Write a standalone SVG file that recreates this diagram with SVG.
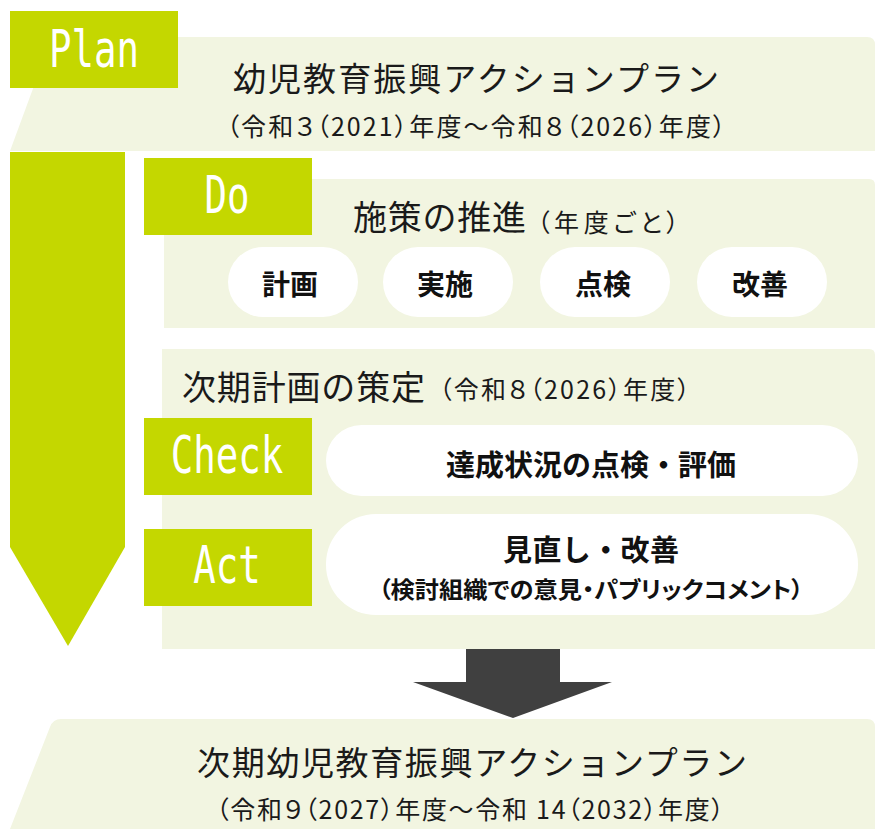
<svg xmlns="http://www.w3.org/2000/svg" width="875" height="829" viewBox="0 0 875 829">
<style>
.panel{fill:#f2f5e1}
.label{fill:#c4d700}
.pill{fill:#ffffff}
.lbl{font-family:"DejaVu Sans Mono","Liberation Mono",monospace;font-size:52px;fill:#ffffff;text-anchor:middle}
.jp{font-family:"Noto Sans CJK JP","Noto Sans",sans-serif;fill:#1a1a1a;text-anchor:middle;dominant-baseline:central}
.t32{font-size:33px}
.t24{font-size:25px}
.p{font-feature-settings:"palt"}
.b{font-weight:bold;fill:#111}
</style>
<rect width="875" height="829" fill="#ffffff"/>
<g id="connectors">
  <polygon id="pdca-arrow" class="label" points="10,152 125,152 125,547 68,646 10,547"/>
  <polygon id="next-arrow" fill="#404040" points="466,649 560,649 560,682 612,682 513,718 413,682 466,682"/>
</g>
<g id="plan">
  <path class="panel" d="M52,37 H867 Q875,37 875,45 V151 H10 Z"/>
  <rect class="label" x="10" y="11" width="168" height="77"/>
  <text class="lbl" transform="translate(94,67) scale(0.72,1)">Plan</text>
  <text class="jp t32" x="476" y="77" textLength="486" lengthAdjust="spacing">幼児教育振興アクションプラン</text>
  <text class="jp t24 p" x="476" y="125" textLength="499" lengthAdjust="spacing">（令和３（2021）年度～令和８（2026）年度）</text>
</g>
<g id="do">
  <path class="panel" d="M164,179 H869 Q875,179 875,185 V328 H164 Z"/>
  <rect class="label" x="144" y="158" width="168" height="77"/>
  <text class="lbl" transform="translate(227,213) scale(0.72,1)">Do</text>
  <text class="jp" x="353" y="215" font-size="34" style="text-anchor:start" textLength="173" lengthAdjust="spacing">施策の推進</text>
  <text class="jp t24 p" x="537" y="221" style="text-anchor:start" textLength="142" lengthAdjust="spacing">（年度ごと）</text>
</g>
<g id="do-items">
  <g id="item-plan"><rect class="pill" x="228" y="247" width="130" height="70" rx="35"/><text class="jp b" x="290" y="283" font-size="28">計画</text></g>
  <g id="item-do"><rect class="pill" x="383" y="247" width="130" height="70" rx="35"/><text class="jp b" x="445" y="283" font-size="28">実施</text></g>
  <g id="item-check"><rect class="pill" x="540" y="247" width="130" height="70" rx="35"/><text class="jp b" x="603" y="283" font-size="28">点検</text></g>
  <g id="item-act"><rect class="pill" x="697" y="247" width="130" height="70" rx="35"/><text class="jp b" x="760" y="283" font-size="28">改善</text></g>
</g>
<g id="next-plan-formulation">
  <path class="panel" d="M162,349 H869 Q875,349 875,355 V649 H162 Z"/>
  <text class="jp" x="182" y="385" font-size="34" style="text-anchor:start" textLength="243" lengthAdjust="spacing">次期計画の策定</text>
  <text class="jp t24 p" x="439" y="388" style="text-anchor:start" textLength="251" lengthAdjust="spacing">（令和８（2026）年度）</text>
</g>
<g id="check">
  <rect class="label" x="144" y="418" width="168" height="77"/>
  <text class="lbl" transform="translate(227,473) scale(0.72,1)">Check</text>
  <rect class="pill" x="326" y="425" width="532" height="71" rx="35.5"/>
  <text class="jp b" x="591" y="463" font-size="29" textLength="290" lengthAdjust="spacing">達成状況の点検・評価</text>
</g>
<g id="act">
  <rect class="label" x="144" y="529" width="168" height="77"/>
  <text class="lbl" transform="translate(227,583) scale(0.72,1)">Act</text>
  <rect class="pill" x="326" y="514" width="532" height="101" rx="50"/>
  <text class="jp b" x="591" y="548" font-size="29" textLength="176" lengthAdjust="spacing">見直し・改善</text>
  <text class="jp b p" x="591" y="588" font-size="23" textLength="425" lengthAdjust="spacingAndGlyphs">（検討組織での意見・パブリックコメント）</text>
</g>
<g id="next-plan">
  <path class="panel" d="M61,719 H867 Q875,719 875,727 V829 H10 L50,727 Q53,719 61,719 Z"/>
  <text class="jp t32" x="472" y="761" textLength="550" lengthAdjust="spacing">次期幼児教育振興アクションプラン</text>
  <text class="jp t24 p" x="470" y="808" textLength="508" lengthAdjust="spacing">（令和９（2027）年度～令和 14（2032）年度）</text>
</g>
</svg>
